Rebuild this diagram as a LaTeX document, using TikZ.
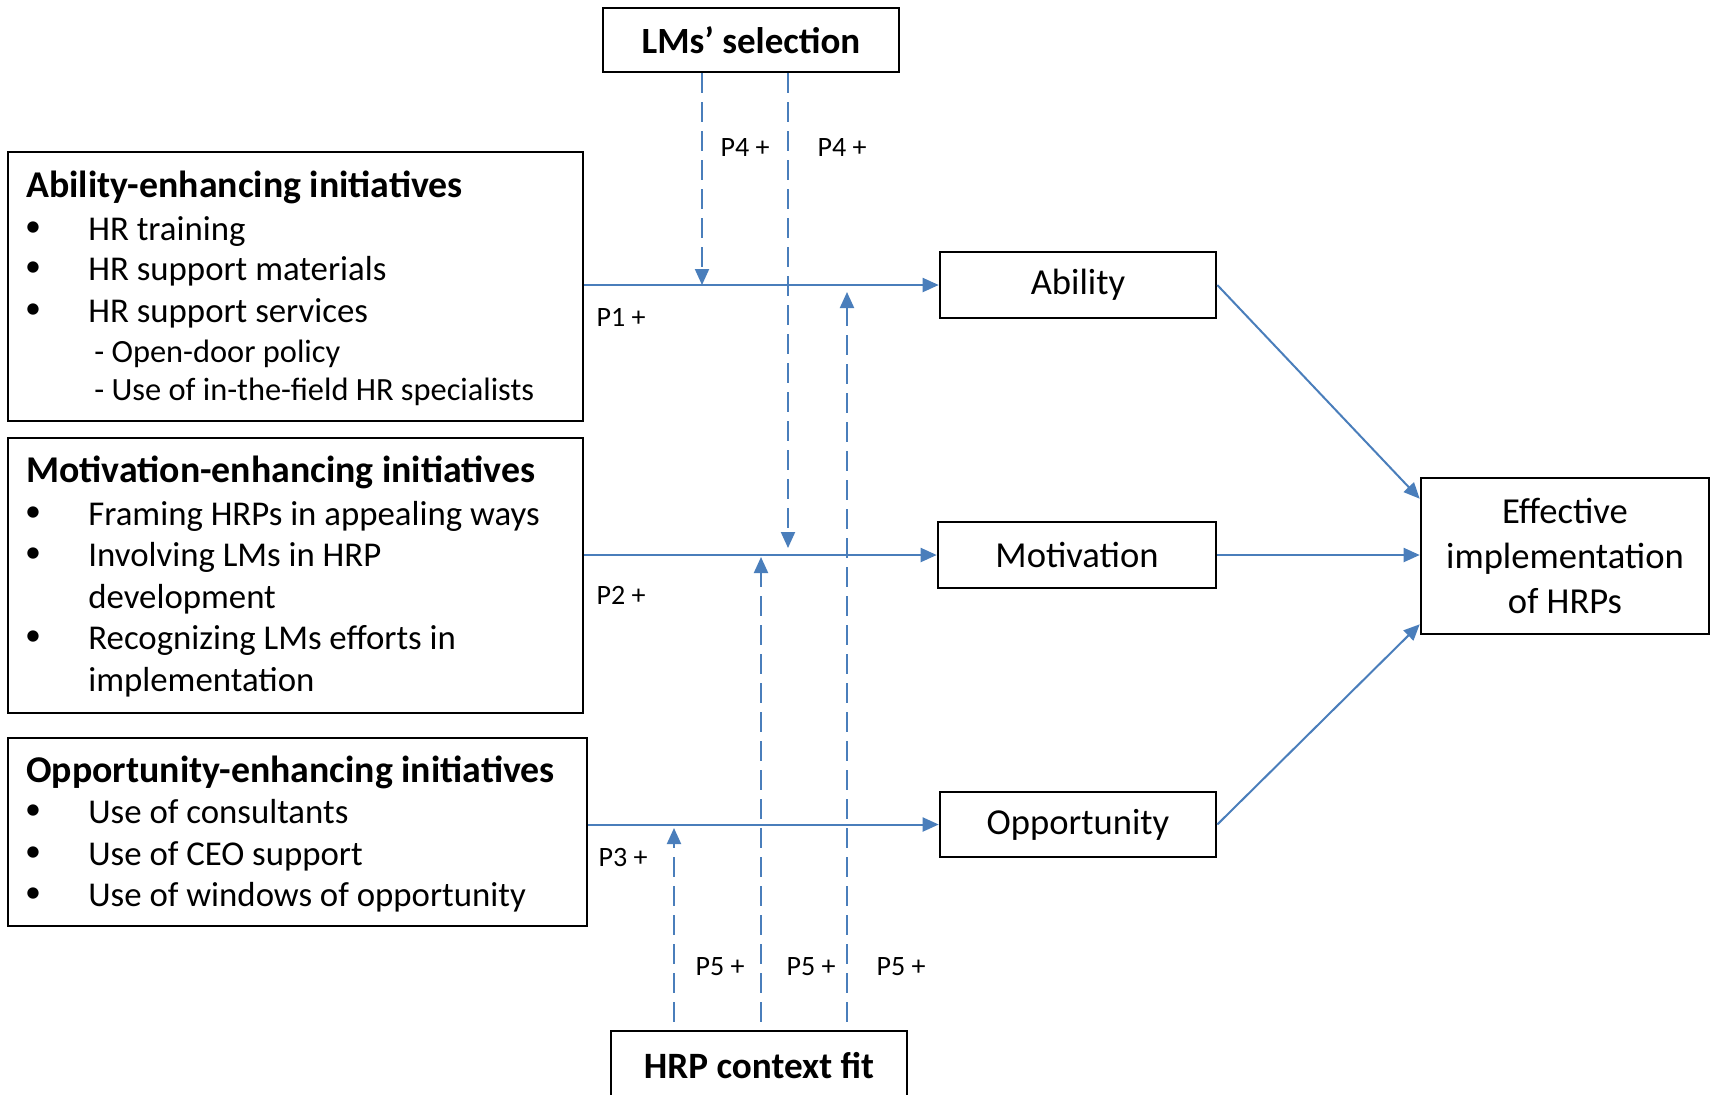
\documentclass[tikz,border=0pt]{standalone}
\usepackage{fontspec}
\setmainfont{Carlito}
\usetikzlibrary{arrows.meta}
\definecolor{lnblue}{RGB}{74,126,187}
\tikzset{
  box/.style={draw=black, line width=1.3pt, rectangle, inner sep=0pt},
  link/.style={draw=lnblue, line width=1pt, -{Triangle[length=8pt,width=7pt]}},
  dlink/.style={link, dash pattern=on 10pt off 4.5pt},
  plab/.style={font=\fontsize{14}{16}\selectfont, inner sep=0pt},
  body/.style={font=\fontsize{17.4}{20}\selectfont, inner sep=0pt, anchor=mid west},
  subl/.style={font=\fontsize{16.2}{20}\selectfont, inner sep=0pt, anchor=mid west},
  bul/.style={font=\fontsize{16}{20}\selectfont, inner sep=0pt},
  ttl/.style={font=\fontsize{18.9}{22}\selectfont\bfseries, inner sep=0pt, anchor=mid west},
  rbox/.style={box, font=\fontsize{18.3}{22.4}\selectfont, align=center},
}
\begin{document}
\begin{tikzpicture}[x=0.5pt,y=-0.5pt]
\useasboundingbox (0,0) rectangle (1714,1094);

% top and bottom boxes
\node[box, minimum width=148pt, minimum height=32pt, font=\fontsize{18.5}{22}\selectfont\bfseries] (lms) at (751,40) {LMs’ selection};
\node[box, minimum width=148pt, minimum height=35pt, font=\fontsize{18.6}{22}\selectfont\bfseries] (hrp) at (759,1066) {HRP context fit};

% left boxes
\node[box, minimum width=287.5pt, minimum height=134.5pt] (abil) at (295.5,286.5) {};
\node[box, minimum width=287.5pt, minimum height=137.5pt] (motiv) at (295.5,575.5) {};
\node[box, minimum width=289.5pt, minimum height=94pt] (opp) at (297.5,832) {};

% ability text
\node[ttl] (at) at (26,193) {Ability-enhancing initiatives};
\node[bul] (ab1) at (33,229) {•};
\node[body] (a1) at (88,236) {HR training};
\node[bul] (ab2) at (33,269) {•};
\node[body] (a2) at (88,276) {HR support materials};
\node[bul] (ab3) at (33,311) {•};
\node[body] (a3) at (88,318) {HR support services};
\node[subl] (a4) at (94,358) {- Open-door policy};
\node[subl] (a5) at (94,396) {- Use of in-the-field HR specialists};

% motivation text
\node[ttl] (mt) at (26,478) {Motivation-enhancing initiatives};
\node[bul] (mb1) at (33,514) {•};
\node[body] (m1) at (88,521) {Framing HRPs in appealing ways};
\node[bul] (mb2) at (33,555) {•};
\node[body] (m2) at (88,562) {Involving LMs in HRP};
\node[body] (m3) at (88,604) {development};
\node[bul] (mb4) at (33,638) {•};
\node[body] (m4) at (88,645) {Recognizing LMs efforts in};
\node[body] (m5) at (88,687) {implementation};

% opportunity text
\node[ttl] (ot) at (26,778) {Opportunity-enhancing initiatives};
\node[bul] (ob1) at (33,812) {•};
\node[body] (o1) at (88,819) {Use of consultants};
\node[bul] (ob2) at (33,854) {•};
\node[body] (o2) at (88,861) {Use of CEO support};
\node[bul] (ob3) at (33,895) {•};
\node[body] (o3) at (88,902) {Use of windows of opportunity};

% right boxes
\node[rbox, minimum width=138pt, minimum height=33pt] (ab) at (1078,285) {Ability};
\node[rbox, minimum width=139pt, minimum height=33pt] (mo) at (1077,555) {Motivation};
\node[rbox, minimum width=138pt, minimum height=32.5pt] (op) at (1078,824.5) {Opportunity};
\node[rbox, minimum width=144pt, minimum height=78pt] (eff) at (1565,556) {Effective\\implementation\\of HRPs};

% main links
\draw[link] (abil.east |- ab.west) -- (ab.west);
\draw[link] (motiv.east |- mo.west) -- (mo.west);
\draw[link] (opp.east |- op.west) -- (op.west);
\draw[link] (ab.east) -- ([yshift=-11pt]eff.north west);
\draw[link] (mo.east) -- (eff.west |- mo.east);
\draw[link] (op.east) -- ([yshift=5.5pt]eff.south west);

% moderating links
\coordinate (t1) at (702,285);
\coordinate (t2) at (788,548);
\coordinate (u1) at (674,828);
\coordinate (u2) at (761,557);
\coordinate (u3) at (847,292);
\draw[dlink] (lms.south -| t1) -- (t1);
\draw[dlink] (lms.south -| t2) -- (t2);
\draw[dlink, shorten <=4pt] (hrp.north -| u1) -- (u1);
\draw[dlink, shorten <=4pt] (hrp.north -| u2) -- (u2);
\draw[dlink, shorten <=4pt] (hrp.north -| u3) -- (u3);

% labels
\node[plab] (p4a) at (745,148) {P4 +};
\node[plab] (p4b) at (842,148) {P4 +};
\node[plab] (p1) at (621,317) {P1 +};
\node[plab] (p2) at (621,595) {P2 +};
\node[plab] (p3) at (623,857) {P3 +};
\node[plab] (p5a) at (720,967) {P5 +};
\node[plab] (p5b) at (811,967) {P5 +};
\node[plab] (p5c) at (901,967) {P5 +};
\end{tikzpicture}
\end{document}
